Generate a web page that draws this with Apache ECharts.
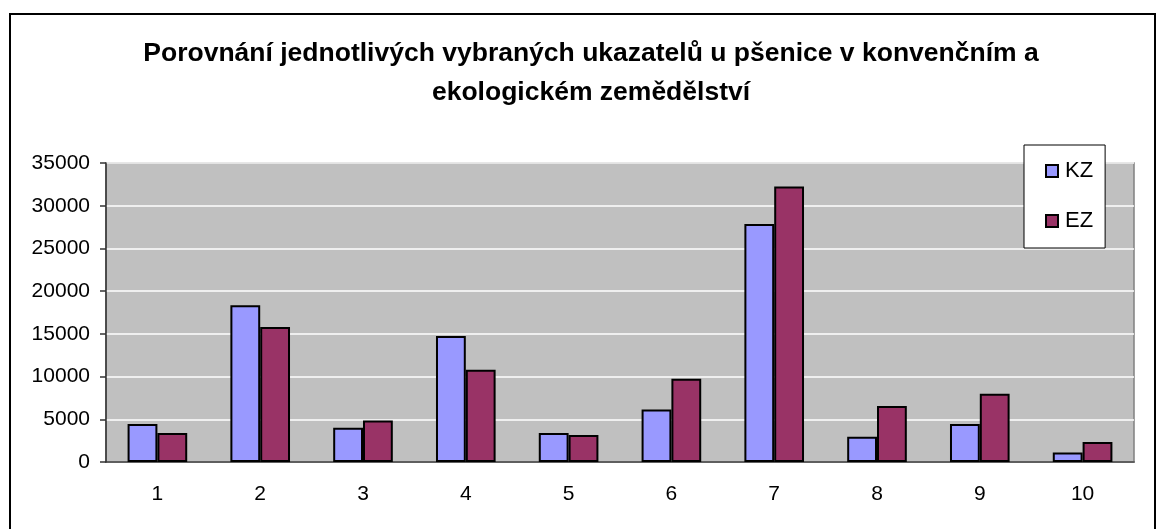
<!DOCTYPE html>
<html>
<head>
<meta charset="utf-8">
<script src="https://cdn.jsdelivr.net/npm/echarts@6/dist/echarts.min.js"></script>
<style>
  html, body { margin: 0; padding: 0; background: #fff; }
  #main { width: 1166px; height: 529px; }
</style>
</head>
<body>
<div id="main"></div>
<script>
// data
var categories = ['1', '2', '3', '4', '5', '6', '7', '8', '9', '10'];
var kzValues = [4450, 18350, 4000, 14750, 3400, 6150, 27850, 2950, 4450, 1100];
var ezValues = [3400, 15800, 4850, 10800, 3150, 9750, 32250, 6550, 8000, 2350];
var titleLines = ['Porovnání jednotlivých vybraných ukazatelů u pšenice v konvenčním a', 'ekologickém zemědělství'];

var font = 'Arial, "Liberation Sans", sans-serif';

var chart = echarts.init(document.getElementById('main'), null, { renderer: 'canvas' });

var option = {
  animation: false,
  backgroundColor: '#ffffff',
  textStyle: { fontFamily: font },
  title: {
    text: titleLines.join('\n'),
    left: 586,
    top: 29,
    textAlign: 'center',
    textStyle: {
      fontFamily: font,
      fontSize: 26.5,
      fontWeight: 'bold',
      color: '#000',
      lineHeight: 39
    }
  },
  graphic: [{
    type: 'rect',
    shape: { x: 10, y: 14, width: 1145, height: 530 },
    style: { fill: null, stroke: '#000', lineWidth: 2 },
    silent: true,
    z: -1
  }],
  legend: {
    orient: 'vertical',
    left: 1024,
    top: 145,
    backgroundColor: '#fff',
    borderColor: '#000',
    borderWidth: 1,
    padding: [15, 12, 16, 21],
    itemGap: 28,
    itemWidth: 12,
    itemHeight: 12,
    icon: 'rect',
    textStyle: { fontFamily: font, fontSize: 22, lineHeight: 20, color: '#000', padding: [0, 0, 0, 2] },
    data: ['KZ', 'EZ'],
    z: 10
  },
  grid: {
    left: 106,
    right: 32,
    top: 163,
    bottom: 67,
    show: true,
    backgroundColor: '#c0c0c0',
    borderColor: '#808080',
    borderWidth: 1.5
  },
  xAxis: {
    type: 'category',
    data: categories,
    axisLine: { lineStyle: { color: '#333', width: 1.5 } },
    axisTick: { length: 6, lineStyle: { color: '#333', width: 1.5 } },
    axisLabel: { fontFamily: font, fontSize: 21, color: '#000', margin: 22 }
  },
  yAxis: {
    type: 'value',
    min: 0,
    max: 35000,
    interval: 5000,
    axisLine: { show: true, lineStyle: { color: '#333', width: 1.5 } },
    axisTick: { show: true, length: 6, lineStyle: { color: '#333', width: 1.5 } },
    axisLabel: {
      fontFamily: font, fontSize: 21, color: '#000', margin: 16,
      formatter: function (v) { return String(v); }
    },
    splitLine: { lineStyle: { color: '#ffffff', width: 1.5 } }
  },
  series: [{
    name: 'KZ',
    type: 'bar',
    data: kzValues,
    barGap: '0%',
    barCategoryGap: '42%',
    itemStyle: { color: '#9999ff', borderColor: '#000', borderWidth: 2 }
  }, {
    name: 'EZ',
    type: 'bar',
    data: ezValues,
    itemStyle: { color: '#993366', borderColor: '#000', borderWidth: 2 }
  }]
};

chart.setOption(option);
</script>
</body>
</html>
